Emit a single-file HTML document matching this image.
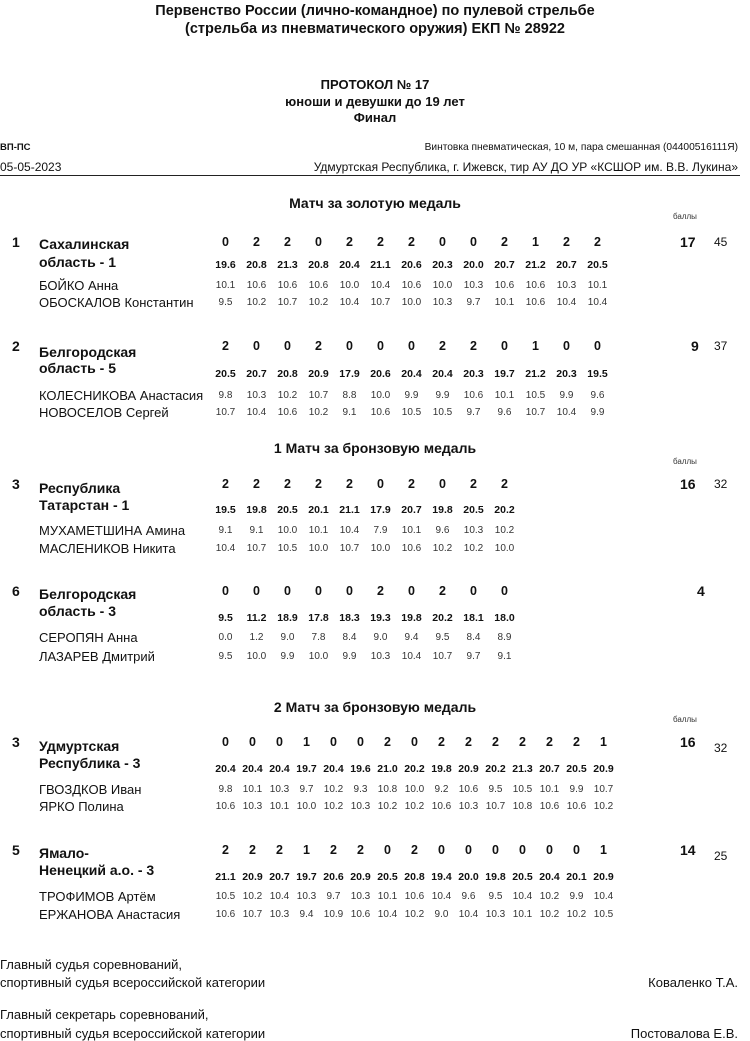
<!DOCTYPE html>
<html><head><meta charset="utf-8">
<style>
body{margin:0;background:#fff;}
#p{position:relative;width:750px;height:1041px;overflow:hidden;font-family:"Liberation Sans",Arial,sans-serif;color:#111;}
.a{position:absolute;white-space:nowrap;line-height:16px;height:16px;}
.c{text-align:center;}
.r{display:flex;position:absolute;line-height:16px;height:16px;}
.r span{display:block;width:31px;text-align:center;flex:none;}
.w27 span{width:27px;}
.pt{font-weight:bold;font-size:12.5px;}
.se{font-weight:bold;font-size:10.5px;}
.pl{font-size:10px;color:#333;}
.nm{font-size:13px;}
.tm{font-weight:bold;font-size:14px;}
.tt{font-weight:bold;font-size:14px;}
.bl{font-size:8px;color:#333;}
.ft{font-size:13px;}
</style></head><body><div id="p">
<div class="a c" style="left:0;width:750px;top:3px;font-weight:bold;font-size:14.5px;">Первенство России (лично-командное) по пулевой стрельбе</div>
<div class="a c" style="left:0;width:750px;top:21px;font-weight:bold;font-size:14.5px;">(стрельба из пневматического оружия) ЕКП № 28922</div>
<div class="a c" style="left:0;width:750px;top:77px;font-weight:bold;font-size:13px;">ПРОТОКОЛ № 17</div>
<div class="a c" style="left:0;width:750px;top:94px;font-weight:bold;font-size:13px;">юноши и девушки до 19 лет</div>
<div class="a c" style="left:0;width:750px;top:110px;font-weight:bold;font-size:13px;">Финал</div>
<div class="a" style="left:0;top:140px;font-weight:bold;font-size:9.5px;">ВП-ПС</div>
<div class="a" style="left:0;top:159px;font-size:12px;">05-05-2023</div>
<div class="a" style="right:12px;top:140px;font-size:10.2px;">Винтовка пневматическая, 10 м, пара смешанная (04400516111Я)</div>
<div class="a" style="right:12px;top:159px;font-size:12px;">Удмуртская Республика, г. Ижевск, тир АУ ДО УР «КСШОР им. В.В. Лукина»</div>
<div style="position:absolute;left:0;top:175px;width:740px;height:1px;background:#222;"></div>

<div class="a c tt" style="left:0;width:750px;top:195px;">Матч за золотую медаль</div>
<div class="a bl" style="left:673px;top:209px;">баллы</div>

<!-- Team 1 -->
<div class="a tm" style="left:12px;top:234px;">1</div>
<div class="a tm" style="left:39px;top:236px;">Сахалинская</div>
<div class="a tm" style="left:39px;top:254px;">область - 1</div>
<div class="r pt" style="left:210px;top:234px;"><span>0</span><span>2</span><span>2</span><span>0</span><span>2</span><span>2</span><span>2</span><span>0</span><span>0</span><span>2</span><span>1</span><span>2</span><span>2</span></div>
<div class="r se" style="left:210px;top:257px;"><span>19.6</span><span>20.8</span><span>21.3</span><span>20.8</span><span>20.4</span><span>21.1</span><span>20.6</span><span>20.3</span><span>20.0</span><span>20.7</span><span>21.2</span><span>20.7</span><span>20.5</span></div>
<div class="a nm" style="left:39px;top:278px;">БОЙКО Анна</div>
<div class="a nm" style="left:39px;top:295px;">ОБОСКАЛОВ Константин</div>
<div class="r pl" style="left:210px;top:278px;"><span>10.1</span><span>10.6</span><span>10.6</span><span>10.6</span><span>10.0</span><span>10.4</span><span>10.6</span><span>10.0</span><span>10.3</span><span>10.6</span><span>10.6</span><span>10.3</span><span>10.1</span></div>
<div class="r pl" style="left:210px;top:295px;"><span>9.5</span><span>10.2</span><span>10.7</span><span>10.2</span><span>10.4</span><span>10.7</span><span>10.0</span><span>10.3</span><span>9.7</span><span>10.1</span><span>10.6</span><span>10.4</span><span>10.4</span></div>
<div class="a" style="left:680px;top:234px;font-weight:bold;font-size:14px;">17</div>
<div class="a" style="left:714px;top:234px;font-size:12px;">45</div>

<!-- Team 2 -->
<div class="a tm" style="left:12px;top:338px;">2</div>
<div class="a tm" style="left:39px;top:344px;">Белгородская</div>
<div class="a tm" style="left:39px;top:360px;">область - 5</div>
<div class="r pt" style="left:210px;top:338px;"><span>2</span><span>0</span><span>0</span><span>2</span><span>0</span><span>0</span><span>0</span><span>2</span><span>2</span><span>0</span><span>1</span><span>0</span><span>0</span></div>
<div class="r se" style="left:210px;top:366px;"><span>20.5</span><span>20.7</span><span>20.8</span><span>20.9</span><span>17.9</span><span>20.6</span><span>20.4</span><span>20.4</span><span>20.3</span><span>19.7</span><span>21.2</span><span>20.3</span><span>19.5</span></div>
<div class="a nm" style="left:39px;top:388px;">КОЛЕСНИКОВА Анастасия</div>
<div class="a nm" style="left:39px;top:405px;">НОВОСЕЛОВ Сергей</div>
<div class="r pl" style="left:210px;top:388px;"><span>9.8</span><span>10.3</span><span>10.2</span><span>10.7</span><span>8.8</span><span>10.0</span><span>9.9</span><span>9.9</span><span>10.6</span><span>10.1</span><span>10.5</span><span>9.9</span><span>9.6</span></div>
<div class="r pl" style="left:210px;top:405px;"><span>10.7</span><span>10.4</span><span>10.6</span><span>10.2</span><span>9.1</span><span>10.6</span><span>10.5</span><span>10.5</span><span>9.7</span><span>9.6</span><span>10.7</span><span>10.4</span><span>9.9</span></div>
<div class="a" style="left:691px;top:338px;font-weight:bold;font-size:14px;">9</div>
<div class="a" style="left:714px;top:338px;font-size:12px;">37</div>

<div class="a c tt" style="left:0;width:750px;top:440px;">1 Матч за бронзовую медаль</div>
<div class="a bl" style="left:673px;top:454px;">баллы</div>

<!-- Team 3 -->
<div class="a tm" style="left:12px;top:476px;">3</div>
<div class="a tm" style="left:39px;top:480px;">Республика</div>
<div class="a tm" style="left:39px;top:497px;">Татарстан - 1</div>
<div class="r pt" style="left:210px;top:476px;"><span>2</span><span>2</span><span>2</span><span>2</span><span>2</span><span>0</span><span>2</span><span>0</span><span>2</span><span>2</span></div>
<div class="r se" style="left:210px;top:502px;"><span>19.5</span><span>19.8</span><span>20.5</span><span>20.1</span><span>21.1</span><span>17.9</span><span>20.7</span><span>19.8</span><span>20.5</span><span>20.2</span></div>
<div class="a nm" style="left:39px;top:523px;">МУХАМЕТШИНА Амина</div>
<div class="a nm" style="left:39px;top:541px;">МАСЛЕНИКОВ Никита</div>
<div class="r pl" style="left:210px;top:523px;"><span>9.1</span><span>9.1</span><span>10.0</span><span>10.1</span><span>10.4</span><span>7.9</span><span>10.1</span><span>9.6</span><span>10.3</span><span>10.2</span></div>
<div class="r pl" style="left:210px;top:541px;"><span>10.4</span><span>10.7</span><span>10.5</span><span>10.0</span><span>10.7</span><span>10.0</span><span>10.6</span><span>10.2</span><span>10.2</span><span>10.0</span></div>
<div class="a" style="left:680px;top:476px;font-weight:bold;font-size:14px;">16</div>
<div class="a" style="left:714px;top:476px;font-size:12px;">32</div>

<!-- Team 6 -->
<div class="a tm" style="left:12px;top:583px;">6</div>
<div class="a tm" style="left:39px;top:586px;">Белгородская</div>
<div class="a tm" style="left:39px;top:603px;">область - 3</div>
<div class="r pt" style="left:210px;top:583px;"><span>0</span><span>0</span><span>0</span><span>0</span><span>0</span><span>2</span><span>0</span><span>2</span><span>0</span><span>0</span></div>
<div class="r se" style="left:210px;top:610px;"><span>9.5</span><span>11.2</span><span>18.9</span><span>17.8</span><span>18.3</span><span>19.3</span><span>19.8</span><span>20.2</span><span>18.1</span><span>18.0</span></div>
<div class="a nm" style="left:39px;top:630px;">СЕРОПЯН Анна</div>
<div class="a nm" style="left:39px;top:649px;">ЛАЗАРЕВ Дмитрий</div>
<div class="r pl" style="left:210px;top:630px;"><span>0.0</span><span>1.2</span><span>9.0</span><span>7.8</span><span>8.4</span><span>9.0</span><span>9.4</span><span>9.5</span><span>8.4</span><span>8.9</span></div>
<div class="r pl" style="left:210px;top:649px;"><span>9.5</span><span>10.0</span><span>9.9</span><span>10.0</span><span>9.9</span><span>10.3</span><span>10.4</span><span>10.7</span><span>9.7</span><span>9.1</span></div>
<div class="a" style="left:697px;top:583px;font-weight:bold;font-size:14px;">4</div>

<div class="a c tt" style="left:0;width:750px;top:699px;">2 Матч за бронзовую медаль</div>
<div class="a bl" style="left:673px;top:712px;">баллы</div>

<!-- Udmurtia -->
<div class="a tm" style="left:12px;top:734px;">3</div>
<div class="a tm" style="left:39px;top:738px;">Удмуртская</div>
<div class="a tm" style="left:39px;top:755px;">Республика - 3</div>
<div class="r pt w27" style="left:212px;top:734px;"><span>0</span><span>0</span><span>0</span><span>1</span><span>0</span><span>0</span><span>2</span><span>0</span><span>2</span><span>2</span><span>2</span><span>2</span><span>2</span><span>2</span><span>1</span></div>
<div class="r se w27" style="left:212px;top:761px;"><span>20.4</span><span>20.4</span><span>20.4</span><span>19.7</span><span>20.4</span><span>19.6</span><span>21.0</span><span>20.2</span><span>19.8</span><span>20.9</span><span>20.2</span><span>21.3</span><span>20.7</span><span>20.5</span><span>20.9</span></div>
<div class="a nm" style="left:39px;top:782px;">ГВОЗДКОВ Иван</div>
<div class="a nm" style="left:39px;top:799px;">ЯРКО Полина</div>
<div class="r pl w27" style="left:212px;top:782px;"><span>9.8</span><span>10.1</span><span>10.3</span><span>9.7</span><span>10.2</span><span>9.3</span><span>10.8</span><span>10.0</span><span>9.2</span><span>10.6</span><span>9.5</span><span>10.5</span><span>10.1</span><span>9.9</span><span>10.7</span></div>
<div class="r pl w27" style="left:212px;top:799px;"><span>10.6</span><span>10.3</span><span>10.1</span><span>10.0</span><span>10.2</span><span>10.3</span><span>10.2</span><span>10.2</span><span>10.6</span><span>10.3</span><span>10.7</span><span>10.8</span><span>10.6</span><span>10.6</span><span>10.2</span></div>
<div class="a" style="left:680px;top:734px;font-weight:bold;font-size:14px;">16</div>
<div class="a" style="left:714px;top:740px;font-size:12px;">32</div>

<!-- Yamal -->
<div class="a tm" style="left:12px;top:842px;">5</div>
<div class="a tm" style="left:39px;top:845px;">Ямало-</div>
<div class="a tm" style="left:39px;top:862px;">Ненецкий а.о. - 3</div>
<div class="r pt w27" style="left:212px;top:842px;"><span>2</span><span>2</span><span>2</span><span>1</span><span>2</span><span>2</span><span>0</span><span>2</span><span>0</span><span>0</span><span>0</span><span>0</span><span>0</span><span>0</span><span>1</span></div>
<div class="r se w27" style="left:212px;top:869px;"><span>21.1</span><span>20.9</span><span>20.7</span><span>19.7</span><span>20.6</span><span>20.9</span><span>20.5</span><span>20.8</span><span>19.4</span><span>20.0</span><span>19.8</span><span>20.5</span><span>20.4</span><span>20.1</span><span>20.9</span></div>
<div class="a nm" style="left:39px;top:889px;">ТРОФИМОВ Артём</div>
<div class="a nm" style="left:39px;top:907px;">ЕРЖАНОВА Анастасия</div>
<div class="r pl w27" style="left:212px;top:889px;"><span>10.5</span><span>10.2</span><span>10.4</span><span>10.3</span><span>9.7</span><span>10.3</span><span>10.1</span><span>10.6</span><span>10.4</span><span>9.6</span><span>9.5</span><span>10.4</span><span>10.2</span><span>9.9</span><span>10.4</span></div>
<div class="r pl w27" style="left:212px;top:907px;"><span>10.6</span><span>10.7</span><span>10.3</span><span>9.4</span><span>10.9</span><span>10.6</span><span>10.4</span><span>10.2</span><span>9.0</span><span>10.4</span><span>10.3</span><span>10.1</span><span>10.2</span><span>10.2</span><span>10.5</span></div>
<div class="a" style="left:680px;top:842px;font-weight:bold;font-size:14px;">14</div>
<div class="a" style="left:714px;top:848px;font-size:12px;">25</div>

<div class="a ft" style="left:0;top:957px;">Главный судья соревнований,</div>
<div class="a ft" style="left:0;top:975px;">спортивный судья всероссийской категории</div>
<div class="a ft" style="right:12px;top:975px;">Коваленко Т.А.</div>
<div class="a ft" style="left:0;top:1007px;">Главный секретарь соревнований,</div>
<div class="a ft" style="left:0;top:1026px;">спортивный судья всероссийской категории</div>
<div class="a ft" style="right:12px;top:1026px;">Постовалова Е.В.</div>
</div></body></html>
